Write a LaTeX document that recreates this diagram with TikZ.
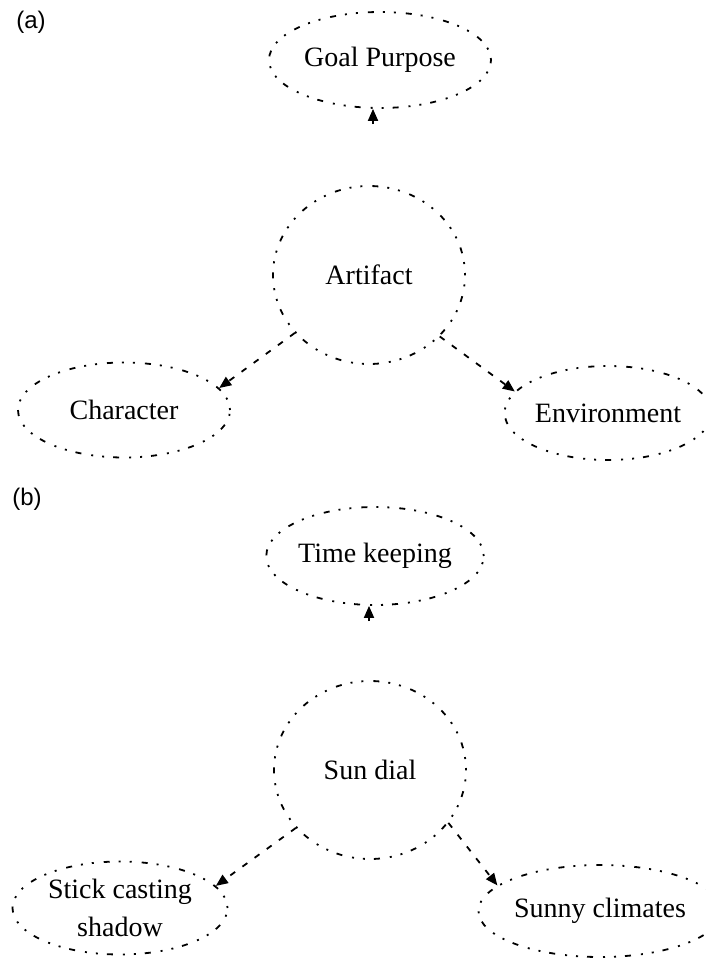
\documentclass[tikz,border=0pt]{standalone}
\usepackage{fontspec}
\setmainfont{Liberation Serif}
\newfontfamily\labelfont{Liberation Sans}
\usetikzlibrary{shapes.geometric,arrows.meta}
\tikzset{
  concept/.style={ellipse, draw, line width=1.8pt, inner sep=0pt,
    dash pattern=on 2pt off 9pt on 2pt off 9pt on 6pt off 10pt,
    font=\fontsize{28}{38}\selectfont, align=center},
  link/.style={line width=1.8pt, dash pattern=on 6pt off 9pt,
    -{Triangle[length=12pt,width=10pt,fill=black,sep=0pt]}},
  stub/.style={line width=1.8pt, -{Triangle[length=12pt,width=10pt,fill=black]}},
  panel/.style={font=\labelfont\fontsize{24}{28}\selectfont, inner sep=0pt}
}
\begin{document}
\begin{tikzpicture}[x=1pt,y=-1pt]
\useasboundingbox (0,0) rectangle (705,959);

% panel (a)
\node[panel] (la) at (31,22) {(a)};
\node[concept, minimum width=222pt, minimum height=96pt] (goal) at (380,60) {Goal Purpose};
\node[concept, minimum width=192pt, minimum height=178pt] (art) at (369,275) {Artifact};
\node[concept, minimum width=212pt, minimum height=95pt] (char) at (124,410) {Character};
\node[concept, minimum width=200pt, minimum height=94pt] (env) at (608,413) {Environment};
\coordinate (gtail) at (373,124);
\draw[stub] (gtail) -- (goal.south -| gtail);
\draw[link] (art.218) -- (char.13);
\draw[link] (art.319) -- (env.167);

% panel (b)
\node[panel] (lb) at (27,499) {(b)};
\node[concept, minimum width=212pt, minimum height=98pt] (time) at (375,556) {Time keeping};
\node[concept, minimum width=192pt, minimum height=178pt] (sun) at (370,770) {Sun dial};
\node[concept, minimum width=215pt, minimum height=93pt] (stick) at (120,908) {Stick casting\\shadow};
\node[concept, minimum width=215pt, minimum height=92pt] (sunny) at (600,911) {Sunny climates};
\coordinate (ttail) at (369,621);
\draw[stub] (ttail) -- (time.south -| ttail);
\draw[link] (sun.218) -- (stick.13);
\draw[link] (sun.326) -- (sunny.166);
\end{tikzpicture}
\end{document}
